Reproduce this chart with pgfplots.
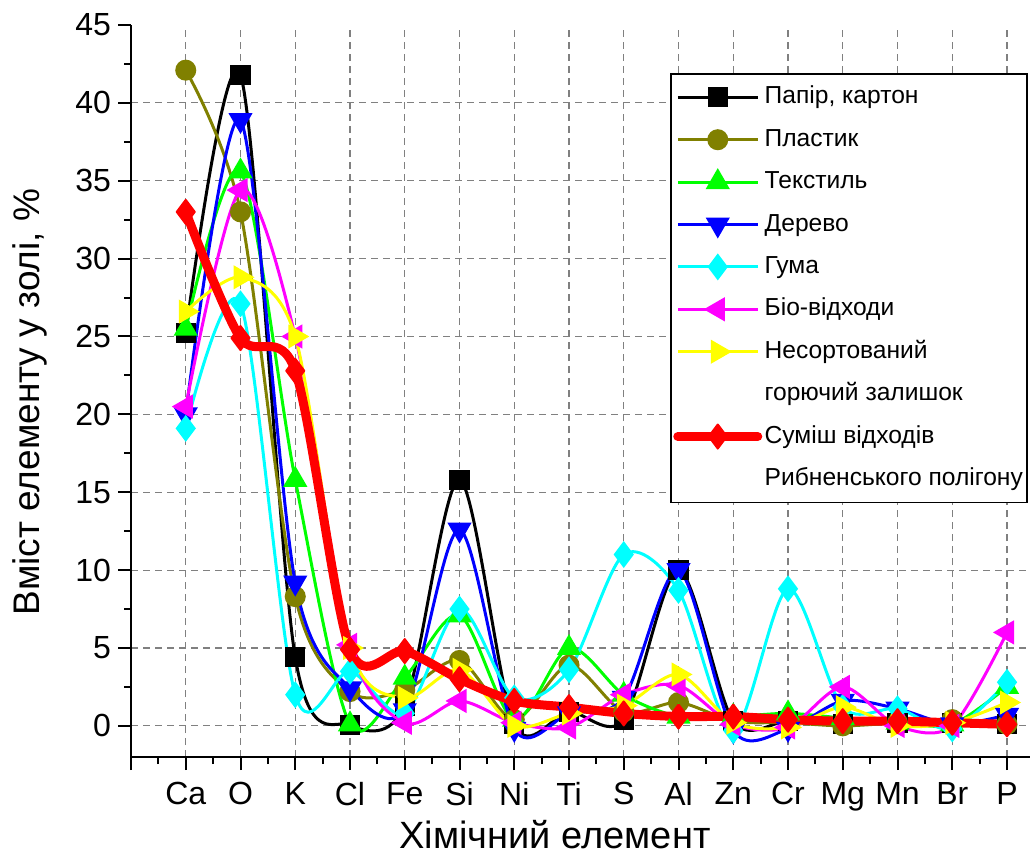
\documentclass[border=0pt]{standalone}
\usepackage{pgfplots}
\pgfplotsset{compat=1.18}
\usepackage{pgfplotstable}
\usepackage{fontspec}
\setmainfont{Liberation Sans}
\definecolor{olv}{RGB}{128,128,0}
\definecolor{grn}{RGB}{0,255,0}
\definecolor{cyn}{RGB}{0,255,255}
\definecolor{mgn}{RGB}{255,0,255}
\definecolor{ylw}{RGB}{255,255,0}
\definecolor{rd}{RGB}{255,0,0}
\pgfplotstableread{
x pap pla tex der gum bio nes sum
0 25.2 42.1 25.5 20.0 19.1 20.5 26.6 33.0
1 41.8 33.0 35.6 38.9 27.1 34.4 28.8 24.9
2 4.4 8.3 15.8 9.2 2.0 25.0 25.0 22.8
3 0.05 2.2 0.1 2.4 3.5 5.2 5.0 4.9
4 1.3 2.3 3.1 1.0 0.8 0.2 1.8 4.8
5 15.8 4.2 7.1 12.6 7.5 1.6 3.6 3.0
6 0.1 0.4 0.4 -0.2 1.8 0.2 0.0 1.6
7 0.9 3.9 5.0 0.8 3.6 -0.1 0.8 1.2
8 0.4 0.9 2.0 1.8 11.0 2.0 1.3 0.8
9 10.0 1.5 0.6 10.0 8.7 2.6 3.3 0.6
10 0.3 0.3 0.6 -0.3 -0.3 0.1 0.2 0.6
11 0.3 0.2 0.8 -0.2 8.8 -0.1 -0.1 0.4
12 0.1 0.0 0.5 1.6 1.2 2.5 1.2 0.3
13 0.2 0.2 0.2 1.1 1.1 0.0 0.0 0.3
14 0.2 0.4 0.1 0.1 -0.2 0.0 0.2 0.2
15 0.1 0.1 2.5 0.7 2.8 6.0 1.5 0.1
}\data
\begin{document}
\begin{tikzpicture}
\begin{axis}[name=ax, scale only axis, width=449.5pt, height=366pt,
  xmin=-1, xmax=15.42, ymin=-2, ymax=45,
  axis x line*=bottom, axis y line*=left,
  axis line style={-, line width=1.2pt},
  xtick={-1,0,...,15},
  xticklabels={,Ca,O,K,Cl,Fe,Si,Ni,Ti,S,Al,Zn,Cr,Mg,Mn,Br,P},
  minor xtick={-0.5,0.5,...,14.5},
  ytick={0,5,...,40},
  extra y ticks={45}, extra tick style={grid=none},
  minor ytick={2.5,7.5,...,42.5},
  tick align=outside, major tick length=6.5pt, minor tick length=3.5pt,
  every tick/.style={black, line width=1pt},
  grid=major,
  major grid style={gray, line width=0.6pt, dash pattern=on 3.5pt off 2.5pt},
  /pgf/number format/assume math mode=true,
  tick label style={font=\fontsize{16}{18}\selectfont},
  xticklabel style={yshift=-2.5pt},
  xlabel={Хімічний елемент},
  ylabel={Вміст елементу у золі, \%},
  label style={font=\fontsize{19}{22}\selectfont},
  xlabel style={at={(axis description cs:0.4716,-0.1066)}, anchor=center},
  ylabel style={at={(axis description cs:-0.1123,0.485)}, anchor=center, font=\fontsize{18.5}{21}\selectfont},
  legend cell align=left,
  legend style={at={(axis description cs:0.9978,0.9344)}, anchor=north east,
    draw=black, line width=0.8pt, fill=white,
    font=\fontsize{12.3}{15}\selectfont,
    inner xsep=1pt, inner ysep=4pt, row sep=5.7pt,
    nodes={inner ysep=1.5pt, inner xsep=1.2pt, text height=9.5pt, text depth=3pt}},
  legend image code/.code={\draw[mark repeat=2,mark phase=2,#1] plot coordinates {(0pt,0pt) (20pt,0pt) (40pt,0pt)};},
]
\addplot[black, line width=1.5pt, smooth, mark=square*, mark size=4.3pt, mark options={solid}] table[x=x,y=pap]{\data};
\addlegendentry{Папір, картон}
\addplot[olv, line width=1.5pt, smooth, mark=*, mark size=4.5pt, mark options={solid}] table[x=x,y=pla]{\data};
\addlegendentry{Пластик}
\addplot[grn, line width=1.5pt, smooth, mark=triangle*, mark size=5.5pt, mark options={solid}] table[x=x,y=tex]{\data};
\addlegendentry{Текстиль}
\addplot[blue, line width=1.5pt, smooth, mark=triangle*, mark size=5.5pt, mark options={solid, rotate=180}] table[x=x,y=der]{\data};
\addlegendentry{Дерево}
\addplot[cyn, line width=1.5pt, smooth, mark=diamond*, mark size=5.5pt, mark options={solid}] table[x=x,y=gum]{\data};
\addlegendentry{Гума}
\addplot[mgn, line width=1.5pt, smooth, mark=triangle*, mark size=5.5pt, mark options={solid, rotate=90}] table[x=x,y=bio]{\data};
\addlegendentry{Біо-відходи}
\addplot[ylw, line width=1.5pt, smooth, mark=triangle*, mark size=5.5pt, mark options={solid, rotate=-90}] table[x=x,y=nes]{\data};
\addlegendentry{Несортований}
\addlegendimage{empty legend}
\addlegendentry{горючий залишок}
\addplot[rd, line width=4.5pt, line cap=round, line join=round, smooth, mark=diamond*, mark size=6pt, mark options={solid, line width=1pt}] table[x=x,y=sum]{\data};
\addlegendentry{Суміш відходів}
\addlegendimage{empty legend}
\addlegendentry{Рибненського полігону}
\end{axis}
\pgfresetboundingbox
\path[use as bounding box] ([xshift=-65.5pt,yshift=-50pt]ax.south west) rectangle ([xshift=1pt,yshift=12.5pt]ax.north east);
\end{tikzpicture}
\end{document}
